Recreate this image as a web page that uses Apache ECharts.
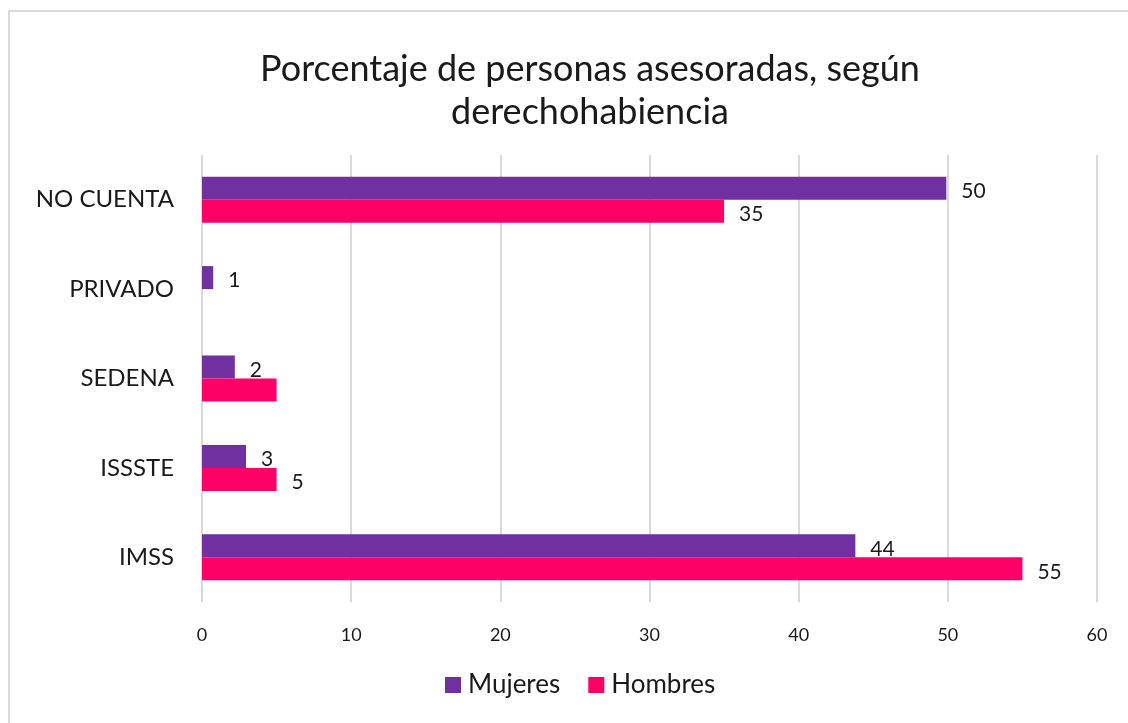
<!DOCTYPE html>
<html>
<head>
<meta charset="utf-8">
<script src="https://cdn.jsdelivr.net/npm/echarts@6/dist/echarts.min.js"></script>
<style>
    html, body { margin: 0; padding: 0; background: #fff; }
    #frame { position: absolute; left: 8px; top: 10px; width: 1130px; height: 720px; border: 2px solid #d9d9d9; box-sizing: border-box; }
    #main { position: absolute; left: 0; top: 0; width: 1128px; height: 723px; }
</style>
</head>
<body>
<div id="frame"></div>
<div id="main"></div>
<script>
    // categories from bottom to top
    const categories = ['IMSS', 'ISSSTE', 'SEDENA', 'PRIVADO', 'NO CUENTA'];
    const mujeres = [43.8, 2.95, 2.2, 0.75, 49.9];
    const hombres = [55.0, 5.0, 5.0, 0, 35.0];
    const mujeresLabels = ['44', '3', '2', '1', '50'];
    const hombresLabels = ['55', '5', '', '', '35'];
    const xTicks = [0, 10, 20, 30, 40, 50, 60];

    const font = 'Lato, "Open Sans", sans-serif';

    let chartDom = document.getElementById('main');
    let myChart = echarts.init(chartDom);
    let option = {
        animation: false,
        textStyle: { fontFamily: font },
        title: {
            text: 'Porcentaje de personas asesoradas, según\nderechohabiencia',
            left: 585,
            textAlign: 'center',
            top: 43,
            textStyle: { fontSize: 36, fontWeight: 'normal', color: '#1a1a1a', lineHeight: 43, fontFamily: font }
        },
        legend: {
            data: ['Mujeres', 'Hombres'],
            bottom: 20,
            left: 440,
            itemWidth: 16,
            itemHeight: 16,
            itemGap: 28,
            icon: 'rect',
            textStyle: { fontSize: 26, color: '#1a1a1a', fontFamily: font, padding: [0, 0, 0, 2] }
        },
        grid: { left: 202, right: 31, top: 155, bottom: 121 },
        xAxis: {
            type: 'value',
            min: xTicks[0],
            max: xTicks[xTicks.length - 1],
            interval: 10,
            axisLine: { show: false },
            axisTick: { show: false },
            axisLabel: { fontSize: 18, color: '#1a1a1a', margin: 24 },
            splitLine: { lineStyle: { color: '#d9d9d9', width: 2 } }
        },
        yAxis: {
            type: 'category',
            data: categories,
            axisLine: { show: false },
            axisTick: { show: false },
            axisLabel: { fontSize: 24, color: '#1a1a1a', margin: 28 }
        },
        series: [
            {
                name: 'Mujeres',
                type: 'bar',
                data: mujeres,
                barWidth: 23,
                barGap: '0%',
                itemStyle: { color: '#7030A0' },
                label: {
                    show: true,
                    position: 'right',
                    distance: 15,
                    offset: [0, 3],
                    fontSize: 21,
                    color: '#1a1a1a',
                    formatter: p => mujeresLabels[p.dataIndex]
                }
            },
            {
                name: 'Hombres',
                type: 'bar',
                data: hombres,
                barWidth: 23,
                barGap: '0%',
                itemStyle: { color: '#FF0066' },
                label: {
                    show: true,
                    position: 'right',
                    distance: 15,
                    offset: [0, 3],
                    fontSize: 21,
                    color: '#1a1a1a',
                    formatter: p => hombresLabels[p.dataIndex]
                }
            }
        ]
    };

    myChart.setOption(option);
</script>
</body>
</html>
